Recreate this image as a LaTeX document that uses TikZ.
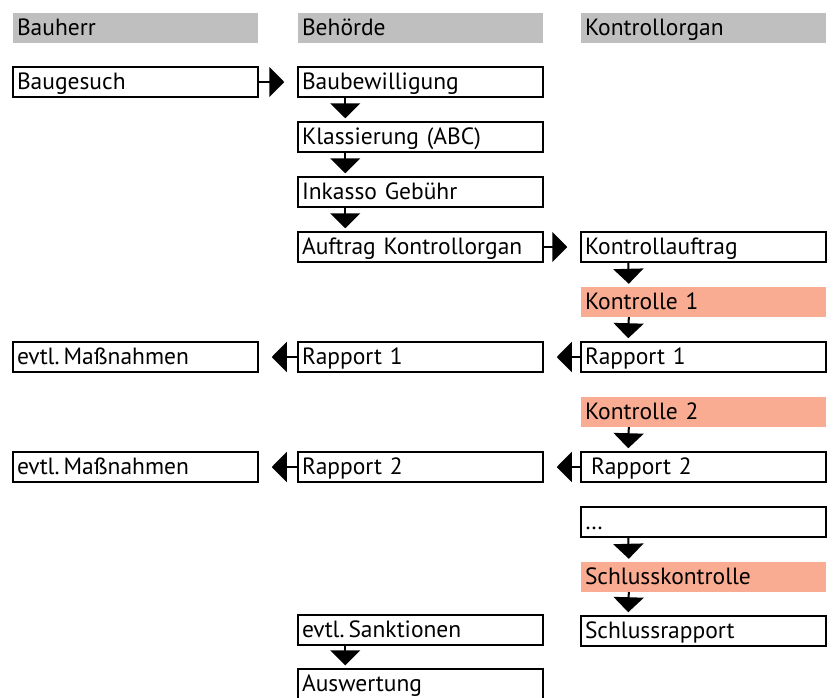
\documentclass[tikz,border=0pt]{standalone}
\usepackage{fontspec}
\setmainfont{PT Sans}
\usepackage{xcolor}
\usetikzlibrary{arrows.meta}

\definecolor{headgray}{RGB}{191,191,191}
\definecolor{ctrlred}{RGB}{250,172,146}

\tikzset{
  cell/.style={anchor=center,minimum height=30pt,text width=237pt,align=left,
    inner xsep=4pt,inner ysep=0pt,text height=19pt,text depth=5pt,
    font=\fontsize{23.5}{26}\selectfont},
  box/.style={cell,draw,line width=1.5pt},
  head/.style={cell,fill=headgray},
  ctrl/.style={cell,fill=ctrlred},
  arr/.style={line width=2pt,-{Triangle[width=30pt,length=15pt]}}
}

\begin{document}
\begin{tikzpicture}[x=1pt,y=-1pt]
  \useasboundingbox[fill=white] (0,0) rectangle (833,697);
  % headers
  \node[head] (hA) at (135.5,28) {Bauherr};
  \node[head] (hB) at (420.5,28) {Behörde};
  \node[head] (hC) at (703.5,28) {Kontrollorgan};
  % Bauherr
  \node[box] (gesuch) at (135.5,82) {Baugesuch};
  \node[box] (mass1) at (135.5,357) {evtl.\,Maßnahmen};
  \node[box] (mass2) at (135.5,467) {evtl.\,Maßnahmen};
  % Behoerde
  \node[box] (bewill) at (420.5,82) {Baubewilligung};
  \node[box] (klass) at (420.5,137) {Klassierung (ABC)};
  \node[box] (inkasso) at (420.5,192) {Inkasso Gebühr};
  \node[box] (auftrag) at (420.5,247) {Auftrag Kontrollorgan};
  \node[box] (rapB1) at (420.5,357) {Rapport 1};
  \node[box] (rapB2) at (420.5,467) {Rapport 2};
  \node[box] (sankt) at (420.5,630) {evtl.\,Sanktionen};
  \node[box] (ausw) at (420.5,684) {Auswertung};
  % Kontrollorgan
  \node[box] (kauftrag) at (703.5,247) {Kontrollauftrag};
  \node[ctrl] (kon1) at (703.5,302) {Kontrolle 1};
  \node[box] (rapC1) at (703.5,357) {Rapport 1};
  \node[ctrl] (kon2) at (703.5,412) {Kontrolle 2};
  \node[box] (rapC2) at (703.5,467) {\hspace{6pt}Rapport 2};
  \node[box] (dots) at (703.5,522) {\dots};
  \node[ctrl] (konS) at (703.5,577) {Schlusskontrolle};
  \node[box] (rapS) at (703.5,631) {Schlussrapport};

  \foreach \a/\b in {bewill/klass,klass/inkasso,inkasso/auftrag,sankt/ausw,
      kauftrag/kon1,kon1/rapC1,kon2/rapC2,dots/konS,konS/rapS}
    \draw[arr] ([xshift=48pt]\a.south west) -- ([xshift=48pt,yshift=3pt]\b.north west);
  \foreach \a/\b in {gesuch/bewill,auftrag/kauftrag}
    \draw[arr] (\a.east) -- ([xshift=-13pt]\b.west);
  \foreach \a/\b in {rapC1/rapB1,rapB1/mass1,rapC2/rapB2,rapB2/mass2}
    \draw[arr] (\a.west) -- ([xshift=13pt]\b.east);
\end{tikzpicture}
\end{document}
